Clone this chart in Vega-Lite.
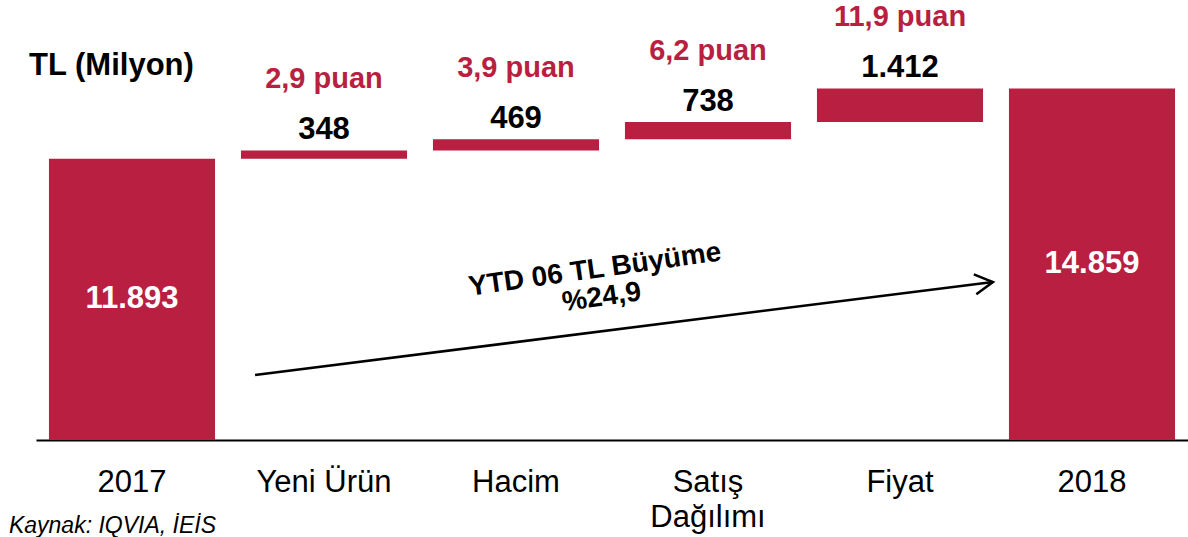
{
  "$schema": "https://vega.github.io/schema/vega-lite/v6.json",
  "width": 1152,
  "height": 440,
  "autosize": {"type": "none"},
  "padding": {"left": 36, "top": 0, "right": 0, "bottom": 97},
  "background": "white",
  "config": {"view": {"stroke": null}, "font": "Liberation Sans"},
  "datasets": {
    "bars": [
      {"cat": "2017", "kind": "total", "start": 0, "end": 11893, "mid": 5946, "label": "11.893", "puan": null},
      {"cat": "Yeni Ürün", "kind": "delta", "start": 11893, "end": 12241, "mid": null, "label": "348", "puan": "2,9 puan"},
      {"cat": "Hacim", "kind": "delta", "start": 12241, "end": 12710, "mid": null, "label": "469", "puan": "3,9 puan"},
      {"cat": "Satış Dağılımı", "kind": "delta", "start": 12710, "end": 13448, "mid": null, "label": "738", "puan": "6,2 puan"},
      {"cat": "Fiyat", "kind": "delta", "start": 13448, "end": 14860, "mid": null, "label": "1.412", "puan": "11,9 puan"},
      {"cat": "2018", "kind": "total", "start": 0, "end": 14859, "mid": 7430, "label": "14.859", "puan": null}
    ],
    "arrow": [
      {"x": 1.141, "y": 2748, "x2": 4.984, "y2": 6679}
    ],
    "growth": [
      {"x": 2.911, "y": 7186, "text": "YTD 06 TL Büyüme"},
      {"x": 2.946, "y": 6015, "text": "%24,9"}
    ],
    "unit": [
      {"x": -0.036, "y": 15430, "text": "TL (Milyon)"}
    ],
    "source": [
      {"x": -0.141, "y": -3930, "text": "Kaynak: IQVIA, İEİS"}
    ]
  },
  "layer": [
    {
      "data": {"name": "bars"},
      "encoding": {
        "x": {
          "field": "cat",
          "type": "nominal",
          "sort": null,
          "scale": {"paddingInner": 0.135, "paddingOuter": 0.0675},
          "axis": {
            "title": null,
            "labelAngle": 0,
            "labelFont": "Liberation Sans",
            "labelFontSize": 31,
            "labelColor": "#000000",
            "ticks": false,
            "tickSize": 0,
            "labelPadding": 27,
            "domainColor": "#000000",
            "domainWidth": 2,
            "labelLineHeight": 35,
            "labelLimit": 400,
            "labelOverlap": false,
            "grid": false,
            "labelExpr": "datum.value === 'Satış Dağılımı' ? ['Satış', 'Dağılımı'] : datum.label"
          }
        }
      },
      "layer": [
        {
          "mark": {"type": "bar", "color": "#B81F41"},
          "encoding": {
            "y": {"field": "start", "type": "quantitative", "scale": {"domain": [0, 18600], "nice": false, "zero": false}, "axis": null},
            "y2": {"field": "end"}
          }
        },
        {
          "transform": [{"filter": "datum.kind === 'delta'"}],
          "mark": {"type": "text", "font": "Liberation Sans", "fontSize": 31, "fontWeight": "bold", "color": "#000000", "baseline": "alphabetic", "dy": -11},
          "encoding": {
            "y": {"field": "end", "type": "quantitative", "scale": {"domain": [0, 18600], "nice": false, "zero": false}, "axis": null},
            "text": {"field": "label"}
          }
        },
        {
          "transform": [{"filter": "datum.kind === 'delta'"}],
          "mark": {"type": "text", "font": "Liberation Sans", "fontSize": 29, "fontWeight": "bold", "color": "#B81F41", "baseline": "alphabetic", "dy": -62},
          "encoding": {
            "y": {"field": "end", "type": "quantitative", "scale": {"domain": [0, 18600], "nice": false, "zero": false}, "axis": null},
            "text": {"field": "puan"}
          }
        },
        {
          "transform": [{"filter": "datum.kind === 'total'"}],
          "mark": {"type": "text", "font": "Liberation Sans", "fontSize": 31, "fontWeight": "bold", "color": "#ffffff", "baseline": "middle"},
          "encoding": {
            "y": {"field": "mid", "type": "quantitative", "scale": {"domain": [0, 18600], "nice": false, "zero": false}, "axis": null},
            "text": {"field": "label"}
          }
        }
      ]
    },
    {
      "layer": [
        {
          "data": {"name": "arrow"},
          "mark": {"type": "rule", "color": "#000000", "strokeWidth": 2.5},
          "encoding": {
            "x": {"field": "x", "type": "quantitative", "scale": {"domain": [0, 6], "nice": false, "zero": false}, "axis": null},
            "y": {"field": "y", "type": "quantitative", "scale": {"domain": [0, 18600], "nice": false, "zero": false}, "axis": null},
            "x2": {"field": "x2"},
            "y2": {"field": "y2"}
          }
        },
        {
          "data": {"name": "arrow"},
          "mark": {"type": "point", "shape": "M-1.8,-1L0,0L-1.8,1", "filled": false, "stroke": "#000000", "strokeWidth": 2.5, "size": 400, "angle": 352.8, "opacity": 1},
          "encoding": {
            "x": {"field": "x2", "type": "quantitative", "scale": {"domain": [0, 6], "nice": false, "zero": false}, "axis": null},
            "y": {"field": "y2", "type": "quantitative", "scale": {"domain": [0, 18600], "nice": false, "zero": false}, "axis": null}
          }
        },
        {
          "data": {"name": "growth"},
          "mark": {"type": "text", "font": "Liberation Sans", "fontSize": 28, "fontWeight": "bold", "color": "#000000", "baseline": "middle", "align": "center", "angle": 352},
          "encoding": {
            "x": {"field": "x", "type": "quantitative", "scale": {"domain": [0, 6], "nice": false, "zero": false}, "axis": null},
            "y": {"field": "y", "type": "quantitative", "scale": {"domain": [0, 18600], "nice": false, "zero": false}, "axis": null},
            "text": {"field": "text"}
          }
        },
        {
          "data": {"name": "unit"},
          "mark": {"type": "text", "font": "Liberation Sans", "fontSize": 31, "fontWeight": "bold", "color": "#000000", "baseline": "alphabetic", "align": "left"},
          "encoding": {
            "x": {"field": "x", "type": "quantitative", "scale": {"domain": [0, 6], "nice": false, "zero": false}, "axis": null},
            "y": {"field": "y", "type": "quantitative", "scale": {"domain": [0, 18600], "nice": false, "zero": false}, "axis": null},
            "text": {"field": "text"}
          }
        },
        {
          "data": {"name": "source"},
          "mark": {"type": "text", "font": "Liberation Sans", "fontSize": 23, "fontStyle": "italic", "color": "#000000", "baseline": "alphabetic", "align": "left"},
          "encoding": {
            "x": {"field": "x", "type": "quantitative", "scale": {"domain": [0, 6], "nice": false, "zero": false}, "axis": null},
            "y": {"field": "y", "type": "quantitative", "scale": {"domain": [0, 18600], "nice": false, "zero": false}, "axis": null},
            "text": {"field": "text"}
          }
        }
      ]
    }
  ],
  "resolve": {"scale": {"x": "independent"}}
}
